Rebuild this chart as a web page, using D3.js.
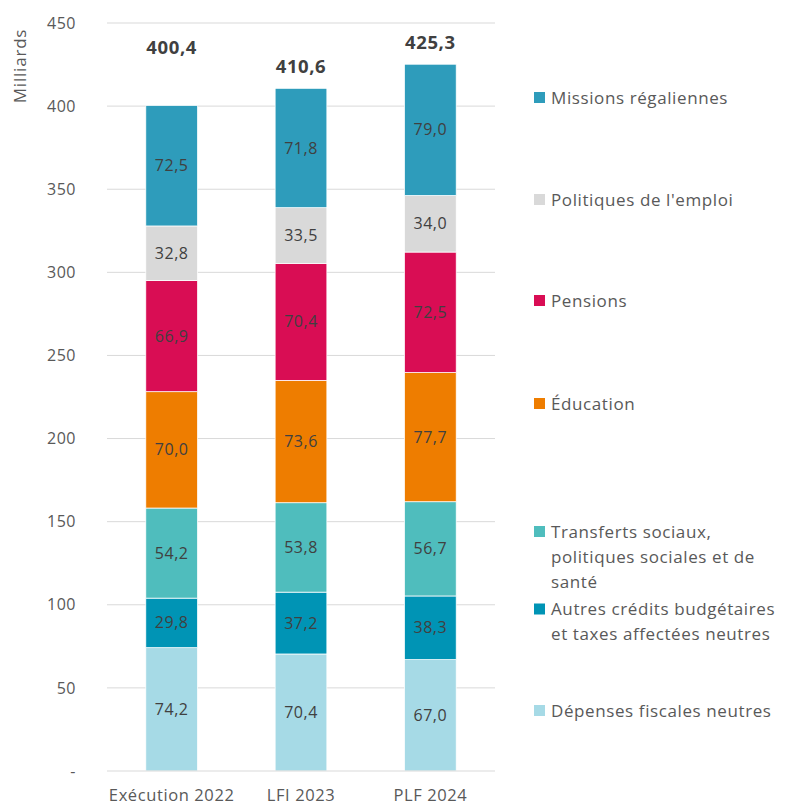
<!DOCTYPE html>
<html>
<head>
<meta charset="utf-8">
<script src="https://cdn.jsdelivr.net/npm/d3@7"></script>
<style>
  body { margin: 0; background: #fff; }
  text { font-family: "Open Sans", sans-serif; }
</style>
</head>
<body>
<div id="chart"></div>
<script>
// data
var categories = ["Exécution 2022", "LFI 2023", "PLF 2024"];
var seriesNames = [
    "Dépenses fiscales neutres",
    "Autres crédits budgétaires et taxes affectées neutres",
    "Transferts sociaux, politiques sociales et de santé",
    "Éducation",
    "Pensions",
    "Politiques de l'emploi",
    "Missions régaliennes"
];
var depensesFiscales = [74.2, 70.4, 67.0];
var autresCredits = [29.8, 37.2, 38.3];
var transferts = [54.2, 53.8, 56.7];
var education = [70.0, 73.6, 77.7];
var pensions = [66.9, 70.4, 72.5];
var emploi = [32.8, 33.5, 34.0];
var missions = [72.5, 71.8, 79.0];
var totals = [400.4, 410.6, 425.3];
var yTicks = [0, 50, 100, 150, 200, 250, 300, 350, 400, 450];

var colors = ["#a6dae6", "#0094b5", "#4fbdbd", "#ee7d00", "#d90d54", "#d9d9d9", "#2e9cbb"];
var legendLines = [
    ["Dépenses fiscales neutres"],
    ["Autres crédits budgétaires", "et taxes affectées neutres"],
    ["Transferts sociaux,", "politiques sociales et de", "santé"],
    ["Éducation"],
    ["Pensions"],
    ["Politiques de l'emploi"],
    ["Missions régaliennes"]
];
var legendY = [711, 622, 557, 404, 301, 200, 98];

var svgWidth = 788;
var svgHeight = 805;
var margin = { top: 23, left: 107, right: 293, bottom: 34 };
var width = svgWidth - margin.left - margin.right;
var height = svgHeight - margin.top - margin.bottom;

var seriesValues = [depensesFiscales, autresCredits, transferts, education, pensions, emploi, missions];
var table = categories.map(function(c, i) {
    var row = { cat: c };
    seriesNames.forEach(function(s, k) { row[s] = seriesValues[k][i]; });
    return row;
});
var stacked = d3.stack().keys(seriesNames)(table);

var svg = d3.select("#chart")
    .append("svg")
    .attr("width", svgWidth)
    .attr("height", svgHeight);

var chartGroup = svg.append("g")
    .attr("transform", `translate(${margin.left}, ${margin.top})`);

var x = d3.scaleBand().domain(categories).range([0, width]).paddingInner(0.6).paddingOuter(0.3);
var y = d3.scaleLinear().domain([0, 450]).range([height, 0]);

// gridlines
chartGroup.selectAll(".grid")
    .data(yTicks.filter(d => d > 0))
    .enter()
    .append("line")
    .attr("x1", 0)
    .attr("x2", width)
    .attr("y1", d => y(d))
    .attr("y2", d => y(d))
    .attr("stroke", "#d9d9d9")
    .attr("stroke-width", 1);

// y axis
var leftAxis = d3.axisLeft(y).tickValues(yTicks).tickSize(0).tickPadding(31)
    .tickFormat(d => d === 0 ? "-" : d);
var yAxis = chartGroup.append("g").call(leftAxis);
yAxis.select(".domain").remove();
yAxis.selectAll("text").attr("font-size", 16).attr("fill", "#595959")
    .style("font-family", "Open Sans, sans-serif").style("letter-spacing", "0.5px");

// bars
var layers = chartGroup.selectAll(".layer")
    .data(stacked)
    .enter()
    .append("g")
    .attr("fill", (d, i) => colors[i]);

layers.selectAll("rect")
    .data(d => d)
    .enter()
    .append("rect")
    .attr("x", d => x(d.data.cat))
    .attr("y", d => y(d[1]))
    .attr("width", x.bandwidth())
    .attr("height", d => y(d[0]) - y(d[1]))
    .attr("stroke", "#fff")
    .attr("stroke-width", 0.75);

layers.selectAll("text")
    .data(d => d)
    .enter()
    .append("text")
    .attr("x", d => x(d.data.cat) + x.bandwidth() / 2)
    .attr("y", d => (y(d[0]) + y(d[1])) / 2)
    .attr("dy", "0.35em")
    .attr("text-anchor", "middle")
    .attr("font-size", 16)
    .attr("letter-spacing", 0.5)
    .attr("fill", "#404040")
    .text(d => d3.format(".1f")(d[1] - d[0]).replace(".", ","));

// x axis line
chartGroup.append("line")
    .attr("x1", 0).attr("x2", width)
    .attr("y1", height).attr("y2", height)
    .attr("stroke", "#d9d9d9").attr("stroke-width", 1.2);

var bottomAxis = d3.axisBottom(x).tickSize(0).tickPadding(18);
var xAxis = chartGroup.append("g").attr("transform", `translate(0, ${height})`).call(bottomAxis);
xAxis.select(".domain").remove();
xAxis.selectAll("text").attr("font-size", 16.5).attr("fill", "#595959")
    .style("font-family", "Open Sans, sans-serif").style("letter-spacing", "0.6px");

// totals
var totalShift = [58, 22, 22];
chartGroup.selectAll(".total")
    .data(totals)
    .enter()
    .append("text")
    .attr("x", (d, i) => x(categories[i]) + x.bandwidth() / 2)
    .attr("y", (d, i) => y(d) - totalShift[i])
    .attr("dy", "0.35em")
    .attr("text-anchor", "middle")
    .attr("font-size", 18.5)
    .attr("font-weight", "bold")
    .attr("letter-spacing", 0.6)
    .attr("fill", "#404040")
    .text(d => d3.format(".1f")(d).replace(".", ","));

// y label
svg.append("text")
    .attr("transform", "translate(26, 66) rotate(-90)")
    .attr("text-anchor", "middle")
    .attr("font-size", 17)
    .attr("letter-spacing", 0.8)
    .attr("fill", "#595959")
    .text("Milliards");

// legend
var legend = svg.append("g");
legendLines.forEach(function(lines, i) {
    var cy = legendY[i];
    var top = cy - (lines.length - 1) * 25 / 2;
    legend.append("rect")
        .attr("x", 534).attr("y", top - 6)
        .attr("width", 11).attr("height", 11)
        .attr("fill", colors[i]);
    lines.forEach(function(l, j) {
        legend.append("text")
            .attr("x", 551)
            .attr("y", top + j * 25)
            .attr("dy", "0.35em")
            .attr("font-size", 17)
            .attr("letter-spacing", 0.6)
            .attr("fill", "#595959")
            .text(l);
    });
});
</script>
</body>
</html>
